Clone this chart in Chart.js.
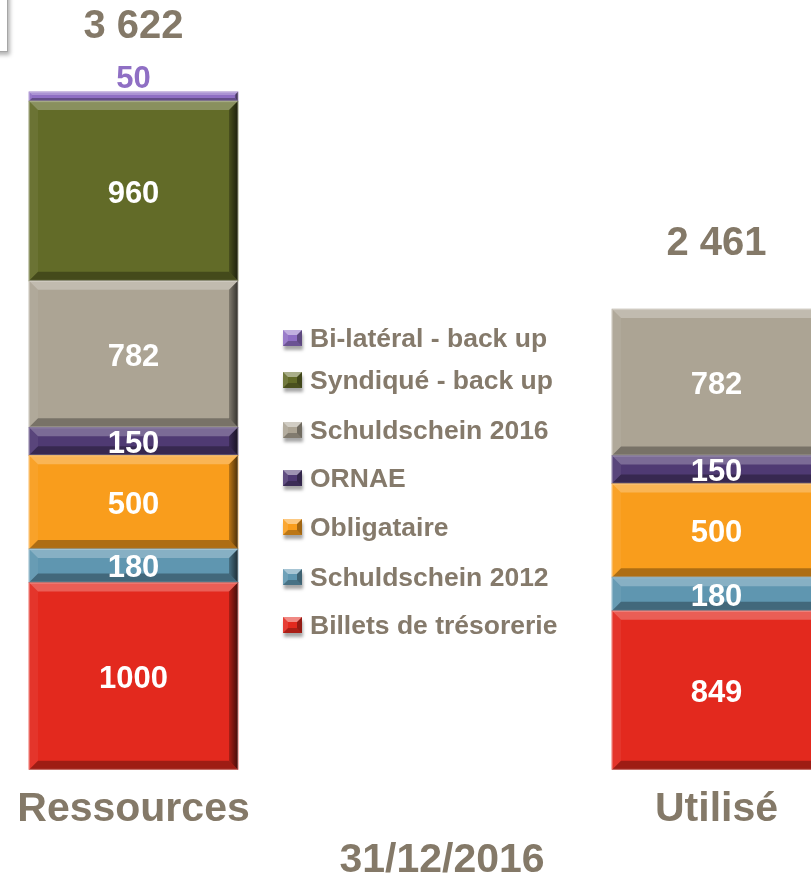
<!DOCTYPE html>
<html>
<head>
<meta charset="utf-8">
<script src="https://cdn.jsdelivr.net/npm/chart.js@4.4.1/dist/chart.umd.min.js"></script>
<style>
  html, body { margin:0; padding:0; background:#fff; }
  body { width:811px; height:880px; overflow:hidden; position:relative; font-family:"Liberation Sans", Arial, sans-serif; }
  #wrap { position:absolute; left:-158px; top:0; width:1166px; height:880px; }
  #frag { position:absolute; left:-90px; top:-10px; width:96px; height:60px; border:1px solid #a6a6a6; background:#fff; box-shadow:2px 3px 4px rgba(0,0,0,0.3); }
  #legend { position:absolute; left:283px; top:0; }
  .item { position:absolute; left:0; display:flex; align-items:center; white-space:nowrap; height:30px;
          font-weight:bold; font-size:26.5px; color:#857a6b; }
  .box { width:9px; height:6px; border-style:solid; border-width:5px; margin-right:8px; box-shadow:1px 4px 3px rgba(0,0,0,0.35); }
</style>
</head>
<body>
<div id="frag"></div>
<div id="wrap"><canvas id="chart"></canvas></div>
<div id="legend"></div>
<script>
// categories and series (bottom of the stack first)
const categories = ["Ressources", "Utilisé"];
const dateLabel = "31/12/2016";

const billets = [1000, 849];
const schuld2012 = [180, 180];
const obligataire = [500, 500];
const ornae = [150, 150];
const schuld2016 = [782, 782];
const syndique = [960, null];
const bilateral = [50, null];

const seriesNames = ["Billets de trésorerie", "Schuldschein 2012", "Obligataire", "ORNAE",
                     "Schuldschein 2016", "Syndiqué - back up", "Bi-latéral - back up"];
const seriesData = [billets, schuld2012, obligataire, ornae, schuld2016, syndique, bilateral];
const seriesColors = ["#e3291e", "#5f96b0", "#f99d1c", "#4f3a73", "#aca494", "#626b28", "#8f6fc4"];

const TEXT = "#847968";
const FONT = "'Liberation Sans', Arial, sans-serif";

function shade(hex, amt){
  let n = parseInt(hex.slice(1), 16);
  let r = n >> 16, g = (n >> 8) & 255, b = n & 255;
  const f = c => amt >= 0 ? Math.round(c + (255 - c) * amt) : Math.round(c * (1 + amt));
  return "rgb(" + f(r) + "," + f(g) + "," + f(b) + ")";
}

function fmtTotal(v){
  return String(v).replace(/\B(?=(\d{3})+(?!\d))/g, " ");
}

// bevels, value labels, totals and the date
const bevelLabels = {
  id: "bevelLabels",
  afterDatasetsDraw(chart){
    const ctx = chart.ctx;
    const tops = [];
    chart.getSortedVisibleDatasetMetas().forEach(meta => {
      const ds = chart.data.datasets[meta.index];
      meta.data.forEach((el, i) => {
        const v = ds.data[i];
        if(v === null || v === undefined) return;
        const l = el.x - el.width / 2, r = el.x + el.width / 2;
        const t = Math.min(el.y, el.base), b = Math.max(el.y, el.base);
        const h = b - t;
        const d = Math.min(9, h / 3);
        const poly = (pts, fill) => {
          ctx.beginPath();
          ctx.moveTo(pts[0][0], pts[0][1]);
          for(let k = 1; k < pts.length; k++) ctx.lineTo(pts[k][0], pts[k][1]);
          ctx.closePath();
          ctx.fillStyle = fill;
          ctx.fill();
        };
        ctx.save();
        poly([[l,t],[r,t],[r-d,t+d],[l+d,t+d]], "rgba(255,255,255,0.25)");
        poly([[l,t],[l+d,t+d],[l+d,b-d],[l,b]], "rgba(255,255,255,0.06)");
        poly([[l,b],[l+d,b-d],[r-d,b-d],[r,b]], "rgba(0,0,0,0.3)");
        const g = ctx.createLinearGradient(r - d, 0, r, 0);
        g.addColorStop(0, "rgba(0,0,0,0.25)");
        g.addColorStop(1, "rgba(0,0,0,0.7)");
        poly([[r,t],[r,b],[r-d,b-d],[r-d,t+d]], g);
        ctx.strokeStyle = "rgba(255,255,255,0.25)";
        ctx.lineWidth = 1;
        ctx.strokeRect(l + 0.5, t + 0.5, r - l - 1, h - 1);
        ctx.restore();

        tops[i] = tops[i] === undefined ? t : Math.min(tops[i], t);

        ctx.save();
        ctx.font = "bold 31px " + FONT;
        ctx.textAlign = "center";
        ctx.textBaseline = "middle";
        if(h < 20){
          ctx.fillStyle = ds.backgroundColor;
          ctx.fillText(String(v), el.x, t - 12);
        } else {
          ctx.fillStyle = "#ffffff";
          ctx.fillText(String(v), el.x, (t + b) / 2 + 3);
        }
        ctx.restore();
      });
    });
    ctx.save();
    ctx.font = "bold 40px " + FONT;
    ctx.textAlign = "center";
    ctx.textBaseline = "middle";
    ctx.fillStyle = TEXT;
    const xs = chart.scales.x;
    categories.forEach((c, i) => {
      let sum = 0;
      seriesData.forEach(s => { if(s[i] !== null) sum += s[i]; });
      ctx.fillText(fmtTotal(sum), xs.getPixelForValue(i), tops[i] - 65);
    });
    // date under the axis
    ctx.font = "bold 41px " + FONT;
    ctx.textBaseline = "alphabetic";
    const area = chart.chartArea;
    ctx.fillText(dateLabel, (area.left + area.right) / 2 + 17, chart.height - 8);
    ctx.restore();
  }
};

new Chart(document.getElementById("chart"), {
  type: "bar",
  data: {
    labels: categories,
    datasets: seriesNames.map((name, k) => ({
      label: name,
      data: seriesData[k],
      backgroundColor: seriesColors[k],
      borderWidth: 0,
      barThickness: 209
    }))
  },
  options: {
    responsive: true,
    maintainAspectRatio: false,
    animation: false,
    layout: { padding: { top: 21, left: 0, right: 0, bottom: 31 } },
    plugins: { legend: { display: false }, tooltip: { enabled: false } },
    scales: {
      x: {
        stacked: true,
        grid: { display: false, drawTicks: false },
        border: { display: false },
        ticks: { color: TEXT, padding: 15, font: { family: FONT, size: 41, weight: "bold", lineHeight: 1.2 } }
      },
      y: { stacked: true, display: false, min: 0, max: 4000 }
    }
  },
  plugins: [bevelLabels]
});

// legend, top of the stack first
const legendRows = [338, 380, 430, 478, 527, 577, 625];
const legend = document.getElementById("legend");
for(let k = seriesNames.length - 1, row = 0; k >= 0; k--, row++){
  const c = seriesColors[k];
  const item = document.createElement("div");
  item.className = "item";
  item.style.top = (legendRows[row] - 15) + "px";
  const box = document.createElement("span");
  box.className = "box";
  box.style.background = c;
  box.style.borderTopColor = shade(c, 0.45);
  box.style.borderLeftColor = shade(c, 0.1);
  box.style.borderRightColor = shade(c, -0.35);
  box.style.borderBottomColor = shade(c, -0.25);
  item.appendChild(box);
  item.appendChild(document.createTextNode(seriesNames[k]));
  legend.appendChild(item);
}
</script>
</body>
</html>
